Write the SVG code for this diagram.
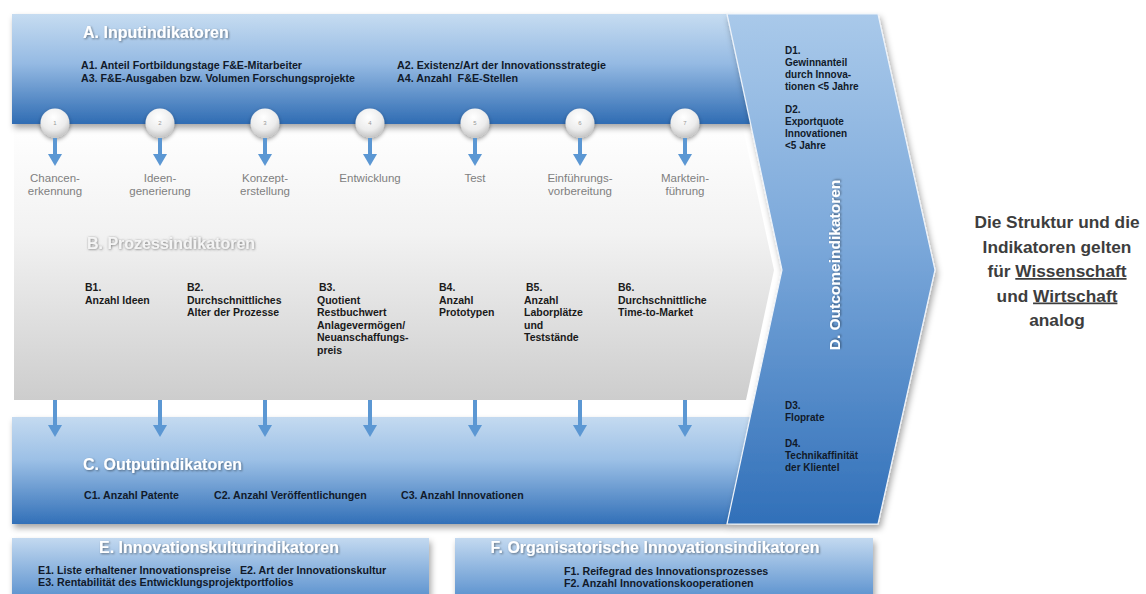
<svg xmlns="http://www.w3.org/2000/svg" width="1146" height="594" viewBox="0 0 1146 594">
<defs>
<linearGradient id="gA" x1="0" y1="0" x2="0" y2="1">
<stop offset="0" stop-color="#c6dcf1"/><stop offset="0.45" stop-color="#95bae3"/><stop offset="1" stop-color="#2f6cb3"/>
</linearGradient>
<linearGradient id="gC" x1="0" y1="0" x2="0" y2="1">
<stop offset="0" stop-color="#c4daf0"/><stop offset="0.4" stop-color="#9cc0e6"/><stop offset="1" stop-color="#3270b8"/>
</linearGradient>
<linearGradient id="gD" x1="0" y1="0" x2="0" y2="1">
<stop offset="0" stop-color="#a9c9ea"/><stop offset="0.45" stop-color="#7ba8da"/><stop offset="1" stop-color="#3170b9"/>
</linearGradient>
<linearGradient id="gB" x1="0" y1="0" x2="0" y2="1">
<stop offset="0" stop-color="#ffffff"/><stop offset="0.4" stop-color="#f2f2f2"/><stop offset="1" stop-color="#cdcdcd"/>
</linearGradient>
<linearGradient id="gBox" x1="0" y1="0" x2="0" y2="1">
<stop offset="0" stop-color="#c3d9f0"/><stop offset="1" stop-color="#4a86c9"/>
</linearGradient>
<radialGradient id="gCirc" cx="0.45" cy="0.3" r="0.75">
<stop offset="0" stop-color="#ffffff"/><stop offset="0.6" stop-color="#ececec"/><stop offset="1" stop-color="#bdbdbd"/>
</radialGradient>
<filter id="sh" x="-5%" y="-10%" width="112%" height="130%">
<feDropShadow dx="2" dy="4" stdDeviation="3" flood-color="#000" flood-opacity="0.35"/>
</filter>
<filter id="shc" x="-40%" y="-40%" width="180%" height="180%">
<feDropShadow dx="0" dy="2" stdDeviation="2" flood-color="#000" flood-opacity="0.4"/>
</filter>
<filter id="tsh" x="-10%" y="-30%" width="120%" height="160%">
<feDropShadow dx="1" dy="1" stdDeviation="0.8" flood-color="#000" flood-opacity="0.45"/>
</filter>
<filter id="tshg" x="-10%" y="-30%" width="120%" height="160%">
<feDropShadow dx="0.5" dy="0.5" stdDeviation="1" flood-color="#555" flood-opacity="0.8"/>
</filter>
<marker id="ah" markerUnits="userSpaceOnUse" markerWidth="12" markerHeight="14" viewBox="0 0 12 14" refX="0" refY="7" orient="auto">
<path d="M0,0 L12,7 L0,14 z" fill="#5b97d3"/>
</marker>
<style>
.ttl{font-family:"Liberation Sans",Arial,sans-serif;font-weight:bold;font-size:16px;fill:#fff;}
.it{font-family:"Liberation Sans",Arial,sans-serif;font-weight:bold;font-size:10.3px;fill:#111a2a;}
.bi{font-family:"Liberation Sans",Arial,sans-serif;font-weight:bold;font-size:10.5px;fill:#1a1a1a;}
.st{font-family:"Liberation Sans",Arial,sans-serif;font-size:11.5px;fill:#7f7f7f;text-anchor:middle;}
.num{font-family:"Liberation Sans",Arial,sans-serif;font-size:6px;fill:#999;text-anchor:middle;}
.cn{stroke:#5b97d3;stroke-width:4;fill:none;marker-end:url(#ah);}
.note{font-family:"Liberation Sans",Arial,sans-serif;font-weight:bold;font-size:17.3px;fill:#3d3d3d;text-anchor:middle;}
</style>
</defs>
<rect width="1146" height="594" fill="#ffffff"/>

<g id="process-b">
<polygon points="14,124 742,124 774,270 746,400 14,400" fill="url(#gB)"/>
<text class="ttl" x="87" y="249" style="fill:#f4f4f4" filter="url(#tshg)">B. Prozessindikatoren</text>
<text class="bi" x="85" y="291">B1.<tspan x="85" y="303.5">Anzahl Ideen</tspan></text>
<text class="bi" x="187" y="291">B2.<tspan x="187" y="303.5">Durchschnittliches</tspan><tspan x="187" y="316">Alter der Prozesse</tspan></text>
<text class="bi" x="319" y="291">B3.<tspan x="317" y="303.5">Quotient</tspan><tspan x="317" y="316">Restbuchwert</tspan><tspan x="317" y="328.5">Anlagevermögen/</tspan><tspan x="317" y="341">Neuanschaffungs-</tspan><tspan x="317" y="353.5">preis</tspan></text>
<text class="bi" x="439" y="291">B4.<tspan x="439" y="303.5">Anzahl</tspan><tspan x="439" y="316">Prototypen</tspan></text>
<text class="bi" x="526" y="291">B5.<tspan x="524" y="303.5">Anzahl</tspan><tspan x="524" y="316">Laborplätze</tspan><tspan x="524" y="328.5">und</tspan><tspan x="524" y="341">Teststände</tspan></text>
<text class="bi" x="618" y="291">B6.<tspan x="618" y="303.5">Durchschnittliche</tspan><tspan x="618" y="316">Time-to-Market</tspan></text>
</g>

<g id="band-a">
<polygon points="12,14 728,14 752,124 12,124" fill="url(#gA)" filter="url(#sh)"/>
<text class="ttl" x="83" y="38" filter="url(#tsh)">A. Inputindikatoren</text>
<text class="it" x="81" y="69" textLength="221" lengthAdjust="spacingAndGlyphs">A1. Anteil Fortbildungstage F&amp;E-Mitarbeiter</text>
<text class="it" x="81" y="81.5" textLength="274" lengthAdjust="spacingAndGlyphs">A3. F&amp;E-Ausgaben bzw. Volumen Forschungsprojekte</text>
<text class="it" x="397" y="69" textLength="209" lengthAdjust="spacingAndGlyphs">A2. Existenz/Art der Innovationsstrategie</text>
<text class="it" x="397" y="81.5" xml:space="preserve" textLength="121" lengthAdjust="spacingAndGlyphs">A4. Anzahl  F&amp;E-Stellen</text>
</g>

<g id="band-c">
<polygon points="12,417 752,417 727,524 12,524" fill="url(#gC)" filter="url(#sh)"/>
<text class="ttl" x="83" y="470" filter="url(#tsh)">C. Outputindikatoren</text>
<text class="it" x="84" y="498.5" style="font-size:10.6px">C1. Anzahl Patente</text>
<text class="it" x="214" y="498.5" style="font-size:10.6px">C2. Anzahl Veröffentlichungen</text>
<text class="it" x="401" y="498.5" style="font-size:10.6px">C3. Anzahl Innovationen</text>
</g>

<g id="outcome-d">
<polygon points="727,14 878,14 935,270 878,524 727,524 782,270" fill="url(#gD)" stroke="#eef3f9" stroke-width="1.2" filter="url(#sh)"/>
<text class="ttl" transform="translate(840,265) rotate(-90)" text-anchor="middle" style="font-size:15.5px" filter="url(#tsh)">D. Outcomeindikatoren</text>
<text class="it" x="785" y="54" style="font-size:10px">D1.<tspan x="785" y="66">Gewinnanteil</tspan><tspan x="785" y="78">durch Innova-</tspan><tspan x="785" y="90">tionen &lt;5 Jahre</tspan></text>
<text class="it" x="785" y="113" style="font-size:10px">D2.<tspan x="785" y="125">Exportquote</tspan><tspan x="785" y="137">Innovationen</tspan><tspan x="785" y="149">&lt;5 Jahre</tspan></text>
<text class="it" x="785" y="409" style="font-size:10px">D3.<tspan x="785" y="421">Floprate</tspan></text>
<text class="it" x="785" y="447" style="font-size:10px">D4.<tspan x="785" y="459">Technikaffinität</tspan><tspan x="785" y="471">der Klientel</tspan></text>
</g>

<g id="stages">
<g id="stage-1"><circle cx="55" cy="123" r="14.5" fill="url(#gCirc)" filter="url(#shc)"/><text class="num" x="55" y="125">1</text><text class="st" x="55" y="182">Chancen-<tspan x="55" y="195">erkennung</tspan></text></g>
<g id="stage-2"><circle cx="160" cy="123" r="14.5" fill="url(#gCirc)" filter="url(#shc)"/><text class="num" x="160" y="125">2</text><text class="st" x="160" y="182">Ideen-<tspan x="160" y="195">generierung</tspan></text></g>
<g id="stage-3"><circle cx="265" cy="123" r="14.5" fill="url(#gCirc)" filter="url(#shc)"/><text class="num" x="265" y="125">3</text><text class="st" x="265" y="182">Konzept-<tspan x="265" y="195">erstellung</tspan></text></g>
<g id="stage-4"><circle cx="370" cy="123" r="14.5" fill="url(#gCirc)" filter="url(#shc)"/><text class="num" x="370" y="125">4</text><text class="st" x="370" y="182">Entwicklung</text></g>
<g id="stage-5"><circle cx="475" cy="123" r="14.5" fill="url(#gCirc)" filter="url(#shc)"/><text class="num" x="475" y="125">5</text><text class="st" x="475" y="182">Test</text></g>
<g id="stage-6"><circle cx="580" cy="123" r="14.5" fill="url(#gCirc)" filter="url(#shc)"/><text class="num" x="580" y="125">6</text><text class="st" x="580" y="182">Einführungs-<tspan x="580" y="195">vorbereitung</tspan></text></g>
<g id="stage-7"><circle cx="685" cy="123" r="14.5" fill="url(#gCirc)" filter="url(#shc)"/><text class="num" x="685" y="125">7</text><text class="st" x="685" y="182">Marktein-<tspan x="685" y="195">führung</tspan></text></g>
</g>

<g id="connectors">
<path class="cn" d="M55,138V154"/><path class="cn" d="M160,138V154"/><path class="cn" d="M265,138V154"/><path class="cn" d="M370,138V154"/><path class="cn" d="M475,138V154"/><path class="cn" d="M580,138V154"/><path class="cn" d="M685,138V154"/>
<path class="cn" d="M55,400V425"/><path class="cn" d="M160,400V425"/><path class="cn" d="M265,400V425"/><path class="cn" d="M370,400V425"/><path class="cn" d="M475,400V425"/><path class="cn" d="M580,400V425"/><path class="cn" d="M685,400V425"/>
</g>

<g id="box-e">
<rect x="12" y="538" width="417" height="70" fill="url(#gBox)" filter="url(#sh)"/>
<text class="ttl" x="219" y="553" text-anchor="middle" style="font-size:16px" filter="url(#tsh)">E. Innovationskulturindikatoren</text>
<text class="it" x="38" y="574" xml:space="preserve" style="font-size:10.7px">E1. Liste erhaltener Innovationspreise   E2. Art der Innovationskultur</text>
<text class="it" x="38" y="586" style="font-size:10.7px">E3. Rentabilität des Entwicklungsprojektportfolios</text>
</g>

<g id="box-f">
<rect x="455" y="538" width="418" height="70" fill="url(#gBox)" filter="url(#sh)"/>
<text class="ttl" x="655" y="553" text-anchor="middle" style="font-size:16px" filter="url(#tsh)">F. Organisatorische Innovationsindikatoren</text>
<text class="it" x="564" y="575" style="font-size:10.7px">F1. Reifegrad des Innovationsprozesses</text>
<text class="it" x="564" y="587" style="font-size:10.7px">F2. Anzahl Innovationskooperationen</text>
</g>

<g id="note">
<text class="note" x="1057" y="228">Die Struktur und die</text>
<text class="note" x="1057" y="252.5">Indikatoren gelten</text>
<text class="note" x="1057" y="277">für <tspan text-decoration="underline">Wissenschaft</tspan></text>
<text class="note" x="1057" y="301.5">und <tspan text-decoration="underline">Wirtschaft</tspan></text>
<text class="note" x="1057" y="326">analog</text>
</g>
</svg>
